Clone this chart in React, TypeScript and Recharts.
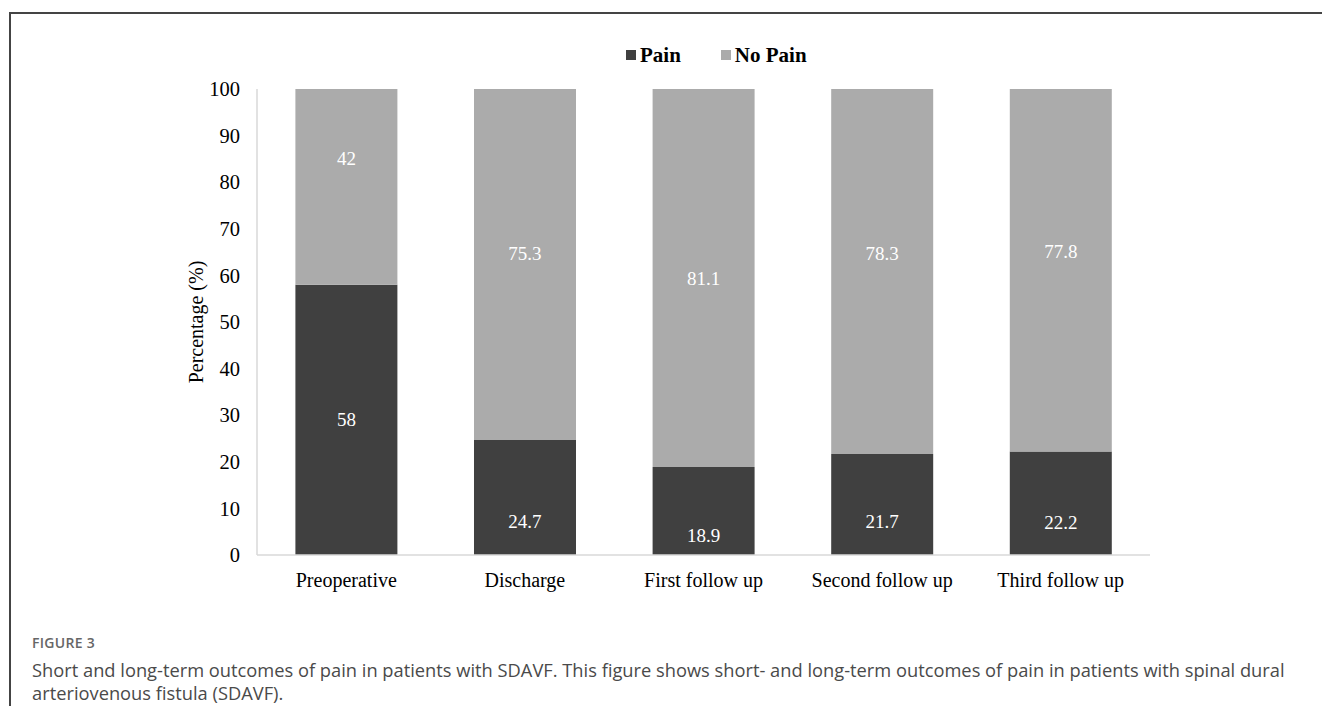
import { Bar, BarChart, LabelList, XAxis, YAxis } from "recharts"

const STAGES = ["Preoperative", "Discharge", "First follow up", "Second follow up", "Third follow up"]
const PAIN = [58, 24.7, 18.9, 21.7, 22.2]
const NO_PAIN = [42, 75.3, 81.1, 78.3, 77.8]
const Y_TICKS = [0, 10, 20, 30, 40, 50, 60, 70, 80, 90, 100]

const PAIN_COLOR = "#404040"
const NO_PAIN_COLOR = "#ababab"
const AXIS_COLOR = "#d9d9d9"
const SERIF = "'Liberation Serif', 'Times New Roman', serif"

// hand-placed label nudges (px), one per stage
const PAIN_LABEL_DY = [0, 24, 25, 17, 19]
const NO_PAIN_LABEL_DY = [-28, -11, 1, -18, -19]

const data = STAGES.map((stage, i) => ({ stage, pain: PAIN[i], noPain: NO_PAIN[i] }))

function makeLabel(offsets: number[]) {
  return (props: any) => {
    const { x, y, width, height, value, index } = props
    return (
      <text
        x={x + width / 2}
        y={y + height / 2 + (offsets[index] ?? 0)}
        textAnchor="middle"
        dominantBaseline="central"
        fill="#ffffff"
        fontSize={19}
        fontFamily={SERIF}
      >
        {value}
      </text>
    )
  }
}

function LegendItem({ color, label }: { color: string; label: string }) {
  return (
    <span style={{ display: "inline-flex", alignItems: "center", margin: "0 20px" }}>
      <span style={{ width: 10, height: 10, background: color, marginRight: 4, display: "inline-block" }} />
      <span>{label}</span>
    </span>
  )
}

export default function App() {
  return (
    <div
      style={{
        position: "absolute",
        left: 0,
        top: 0,
        width: 1322,
        height: 713,
        background: "#fff",
        overflow: "hidden",
      }}
    >
      {/* figure frame: top and left rules */}
      <div style={{ position: "absolute", left: 9, top: 12, width: 1313, height: 2, background: "#444" }} />
      <div style={{ position: "absolute", left: 9, top: 12, width: 2, height: 694, background: "#444" }} />

      <div
        style={{
          position: "absolute",
          left: 606,
          top: 40,
          width: 220,
          textAlign: "center",
          fontFamily: SERIF,
          fontWeight: "bold",
          fontSize: 21,
          lineHeight: "26px",
          color: "#000",
          whiteSpace: "nowrap",
        }}
      >
        <LegendItem color={PAIN_COLOR} label="Pain" />
        <LegendItem color={NO_PAIN_COLOR} label="No Pain" />
      </div>

      <div style={{ position: "absolute", left: 0, top: 0 }}>
        <BarChart
          width={1322}
          height={713}
          data={data}
          barCategoryGap="21.5%"
          margin={{ top: 89, right: 172, bottom: 128, left: 197 }}
        >
          <XAxis
            dataKey="stage"
            height={30}
            tickLine={false}
            axisLine={{ stroke: AXIS_COLOR, strokeWidth: 1.5 }}
            tickMargin={12}
            tick={{ fill: "#000", fontSize: 20, fontFamily: SERIF }}
          />
          <YAxis
            width={60}
            domain={[0, 100]}
            ticks={Y_TICKS}
            interval={0}
            tickLine={false}
            tickSize={0}
            tickMargin={17}
            axisLine={{ stroke: AXIS_COLOR, strokeWidth: 1.5 }}
            tick={{ fill: "#000", fontSize: 20.5, fontFamily: SERIF }}
            label={{
              value: "Percentage (%)",
              angle: -90,
              position: "insideLeft",
              offset: 0,
              dx: -1,
              fill: "#000",
              fontSize: 20,
              fontFamily: SERIF,
              style: { textAnchor: "middle" },
            }}
          />
          <Bar dataKey="pain" stackId="a" fill={PAIN_COLOR} isAnimationActive={false}>
            <LabelList dataKey="pain" content={makeLabel(PAIN_LABEL_DY)} />
          </Bar>
          <Bar dataKey="noPain" stackId="a" fill={NO_PAIN_COLOR} isAnimationActive={false}>
            <LabelList dataKey="noPain" content={makeLabel(NO_PAIN_LABEL_DY)} />
          </Bar>
        </BarChart>
      </div>

      <div
        style={{
          position: "absolute",
          left: 32,
          top: 633,
          width: 1275,
          fontFamily: "'Open Sans', 'Noto Sans', sans-serif",
        }}
      >
        <div style={{ fontSize: 14, fontWeight: 600, letterSpacing: 0.3, lineHeight: "20px", color: "#666" }}>
          FIGURE 3
        </div>
        <div style={{ fontSize: 18.3, lineHeight: "23px", marginTop: 5, color: "#4a4a4a" }}>
          Short and long-term outcomes of pain in patients with SDAVF. This figure shows short- and long-term
          outcomes of pain in patients with spinal dural arteriovenous fistula (SDAVF).
        </div>
      </div>
    </div>
  )
}
